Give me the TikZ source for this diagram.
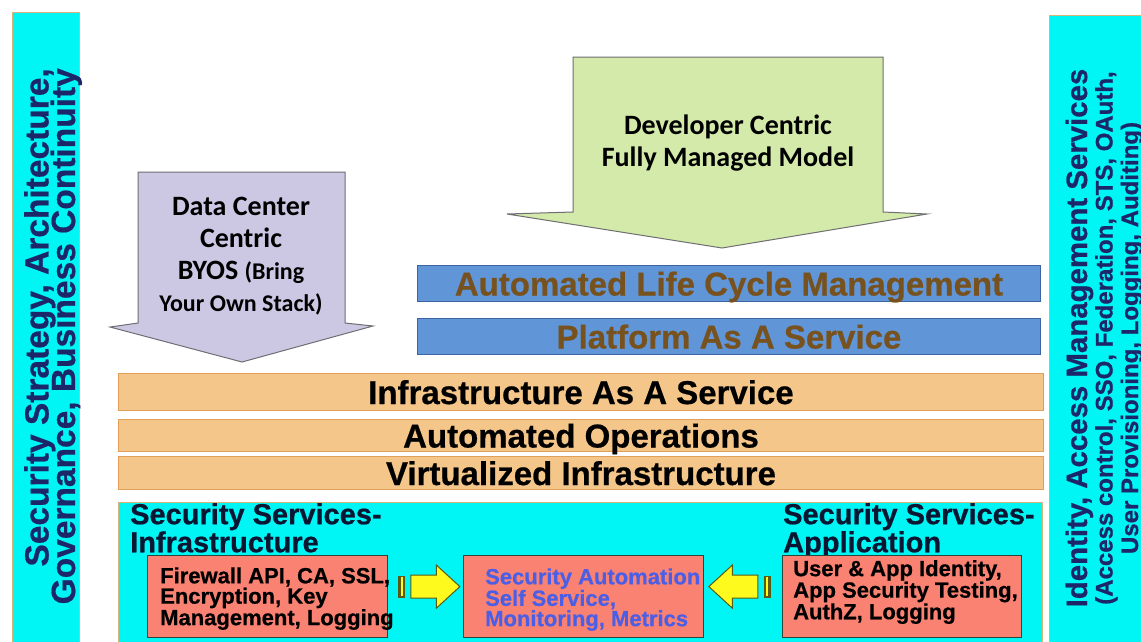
\documentclass[tikz,border=0pt]{standalone}
\usepackage{fontspec}
\setmainfont{Liberation Sans}[BoldFeatures={FakeBold=0.6}]
\newfontfamily\calibri{Carlito}
\usetikzlibrary{calc,shapes.arrows}
\definecolor{secCyan}{RGB}{0,245,245}
\definecolor{sideEdge}{RGB}{215,180,120}
\definecolor{navyTxt}{RGB}{28,38,105}
\definecolor{titleTxt}{RGB}{10,22,50}
\definecolor{paasBlue}{RGB}{96,150,215}
\definecolor{paasEdge}{RGB}{60,100,160}
\definecolor{brownTxt}{RGB}{120,82,30}
\definecolor{iaasTan}{RGB}{245,198,138}
\definecolor{iaasEdge}{RGB}{225,160,90}
\definecolor{salmon}{RGB}{250,130,115}
\definecolor{salmonEdge}{RGB}{45,70,60}
\definecolor{autoBlue}{RGB}{75,95,230}
\definecolor{byosLilac}{RGB}{204,200,228}
\definecolor{devGreen}{RGB}{212,234,170}
\definecolor{arrowEdge}{RGB}{110,110,115}
\definecolor{yelFill}{RGB}{255,250,30}
\definecolor{yelEdge}{RGB}{90,90,20}
\newcommand\tightlines{\lineskiplimit -40pt\relax}

\begin{document}
\begin{tikzpicture}[x=1pt,y=-1pt,
  sidebar/.style={fill=secCyan,draw=sideEdge,line width=0.8pt},
  sidetext/.style={rotate=90,inner sep=0pt,text=navyTxt},
  bluebar/.style={draw=paasEdge,fill=paasBlue,line width=1pt,anchor=north west,minimum width=623,minimum height=36,inner sep=0pt,text=brownTxt,font=\fontsize{33}{36}\selectfont\bfseries,text height=24pt,text depth=0pt},
  tanbar/.style={draw=iaasEdge,fill=iaasTan,line width=1pt,anchor=north west,minimum width=925,inner sep=0pt,font=\fontsize{33}{36}\selectfont\bfseries,text height=24pt,text depth=0pt},
  pinkbox/.style={draw=salmonEdge,fill=salmon,line width=1.2pt,anchor=north west,minimum width=240,minimum height=82,inner sep=0pt},
  boxtext/.style={align=left,inner sep=0pt,font=\fontsize{22}{18.5}\selectfont\bfseries},
  sectitle/.style={anchor=north west,align=left,inner sep=0pt,text=titleTxt,font=\fontsize{29}{25}\selectfont\bfseries},
  bigarrow/.style={draw=arrowEdge,line width=1pt},
  arrowtext/.style={align=center,inner sep=0pt,font=\calibri\bfseries\fontsize{28}{32}\selectfont},
  yarrow/.style={single arrow,draw=yelEdge,fill=yelFill,line width=1pt,inner sep=11pt,single arrow head extend=10pt,single arrow tip angle=85,minimum height=49,minimum width=0pt},
  stripe/.style={fill=yelEdge}
]
  \clip (0,0) rectangle (1141,641);
  \fill[white] (0,0) rectangle (1141,641);

  % side columns
  \draw[sidebar] (12,12) rectangle (79,660);
  \node[sidetext,align=right,anchor=north east,font=\fontsize{33.5}{26.5}\selectfont\bfseries\tightlines] (strat) at (24,68)
    {Security Strategy, Architecture,\\Governance, Business Continuity};
  \draw[sidebar] (1049,15) rectangle (1160,660);
  \node[sidetext,align=center,anchor=north,font=\fontsize{24}{25.5}\selectfont\bfseries\tightlines] (iam) at (1065.5,338)
    {{\fontsize{29.4}{30}\selectfont Identity, Access Management Services}\\(Access control, SSO, Federation, STS, OAuth,\\User Provisioning, Logging, Auditing)};

  % delivery models
  \draw[bigarrow,fill=byosLilac] (138,172) -- (345,172) -- (345,323) -- (373,326) -- (242,362) -- (110,327) -- (138,323) -- cycle;
  \node[arrowtext] (byos) at (241,256)
    {Data Center\\Centric\\BYOS {\fontsize{24}{32}\selectfont(Bring}\\{\fontsize{24}{32}\selectfont Your Own Stack)}};
  \draw[bigarrow,fill=devGreen] (573,57) -- (883,57) -- (883,212) -- (927,214) -- (722,248) -- (507,214) -- (573,212) -- cycle;
  \node[arrowtext] (dev) at (728,143) {Developer Centric\\Fully Managed Model};

  % layers
  \node[bluebar] (alcm) at (417,265) {Automated Life Cycle Management};
  \node[bluebar] (paas) at (417,318) {Platform As A Service};
  \node[tanbar,minimum height=37] (iaas) at (118,373) {Infrastructure As A Service};
  \node[tanbar,minimum height=32] (ops) at (118,419) {Automated Operations};
  \node[tanbar,minimum height=33] (virt) at (118,456) {Virtualized Infrastructure};

  % security services
  \draw[sidebar] (118,502) rectangle (1042,660);
  \node[sectitle] (infratitle) at (130,503) {Security Services-\\Infrastructure};
  \node[sectitle] (apptitle) at (783,503) {Security Services-\\Application};

  \node[pinkbox] (fw) at (147,555) {};
  \node[pinkbox] (auto) at (463,555) {};
  \node[pinkbox,minimum width=239] (app) at (782,555) {};
  \node[boxtext,anchor=west] (fwtext) at ([xshift=13pt,yshift=-2pt]fw.west)
    {Firewall API, CA, SSL,\\Encryption, Key\\Management, Logging};
  \node[boxtext,anchor=west,text=autoBlue] (autotext) at ([xshift=22pt,yshift=-3pt]auto.west)
    {Security Automation\\Self Service,\\Monitoring, Metrics};
  \node[boxtext,anchor=north west] (apptext) at ([xshift=11pt,yshift=-5pt]app.north west)
    {User \& App Identity,\\App Security Testing,\\AuthZ, Logging};

  % feeds into automation
  \coordinate (m1) at ($(fw.east)!0.5!(auto.west)+(0,-10)$);
  \coordinate (m2) at ($(auto.east)!0.5!(app.west)+(0,-10)$);
  \node[yarrow] (feed1) at ([xshift=3.5pt]m1) {};
  \fill[stripe] ([xshift=-28pt,yshift=-11pt]m1) rectangle ([xshift=-21pt,yshift=11pt]m1);
  \fill[yelFill] ([xshift=-25pt,yshift=-9.5pt]m1) rectangle ([xshift=-23pt,yshift=9.5pt]m1);
  \node[yarrow,shape border rotate=180] (feed2) at ([xshift=-3.5pt]m2) {};
  \fill[stripe] ([xshift=21pt,yshift=-11pt]m2) rectangle ([xshift=28pt,yshift=11pt]m2);
  \fill[yelFill] ([xshift=23pt,yshift=-9.5pt]m2) rectangle ([xshift=25pt,yshift=9.5pt]m2);
\end{tikzpicture}
\end{document}
